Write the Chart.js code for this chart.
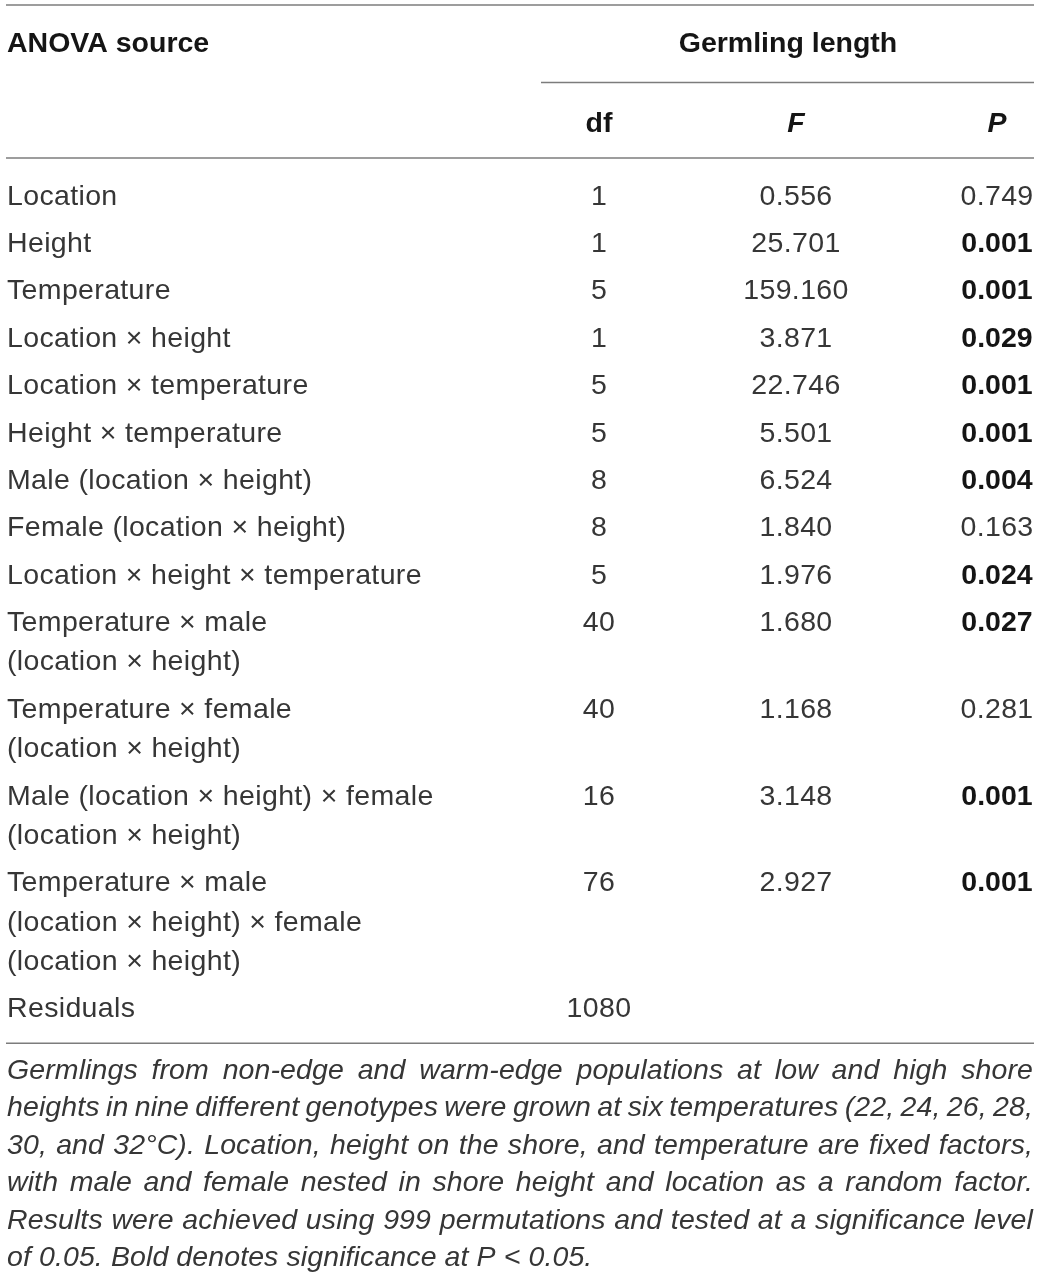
<!DOCTYPE html>
<html lang="en">
<head>
  <meta charset="UTF-8">
  <title>ANOVA - Germling length</title>
  <script src="https://cdn.jsdelivr.net/npm/chart.js"></script>
  <style>
    html, body { margin: 0; padding: 0; background: #fff; }
    #wrap { width: 1040px; height: 1277px; }
  </style>
</head>
<body>
  <div id="wrap"><canvas id="anovaTable"></canvas></div>

  <script>
    // Table contents (one entry per ANOVA source, wrapped lines as in the print)
    const sources = [
      ['Location'],
      ['Height'],
      ['Temperature'],
      ['Location \u00d7 height'],
      ['Location \u00d7 temperature'],
      ['Height \u00d7 temperature'],
      ['Male (location \u00d7 height)'],
      ['Female (location \u00d7 height)'],
      ['Location \u00d7 height \u00d7 temperature'],
      ['Temperature \u00d7 male', '(location \u00d7 height)'],
      ['Temperature \u00d7 female', '(location \u00d7 height)'],
      ['Male (location \u00d7 height) \u00d7 female', '(location \u00d7 height)'],
      ['Temperature \u00d7 male', '(location \u00d7 height) \u00d7 female', '(location \u00d7 height)'],
      ['Residuals']
    ];
    const dfValues = [1, 1, 5, 1, 5, 5, 8, 8, 5, 40, 40, 16, 76, 1080];
    const fValues = [0.556, 25.701, 159.160, 3.871, 22.746, 5.501, 6.524, 1.840, 1.976, 1.680, 1.168, 3.148, 2.927, null];
    const pValues = [0.749, 0.001, 0.001, 0.029, 0.001, 0.001, 0.004, 0.163, 0.024, 0.027, 0.281, 0.001, 0.001, null];
    const alpha = 0.05;

    const captionLines = [
      'Germlings from non-edge and warm-edge populations at low and high shore',
      'heights in nine different genotypes were grown at six temperatures (22, 24, 26, 28,',
      '30, and 32\u00b0C). Location, height on the shore, and temperature are fixed factors,',
      'with male and female nested in shore height and location as a random factor.',
      'Results were achieved using 999 permutations and tested at a significance level',
      'of 0.05. Bold denotes significance at P < 0.05.'
    ];

    // Layout (page units = css pixels)
    const W = 1040, H = 1277;
    const left = 6, right = 1034;
    const colX = { source: 7, df: 599, F: 796, P: 997 };
    const groupX = 788, groupLeft = 541;
    const rowBase0 = 204.5, rowGap = 47.4, wrapGap = 39.3;
    const captionBase0 = 1079, captionGap = 37.4;

    const FAMILY = '"Liberation Sans", Helvetica, Arial, sans-serif';
    const SIZE = 28.5;
    const textColor = '#363636';
    const boldColor = '#151515';
    const ruleColor = '#7c7c7c';

    // build cells
    const cells = [];
    const addCell = (x, y, text, opts) => cells.push(Object.assign({ x, y, text, align: 'center', weight: 'normal', italic: false }, opts || {}));

    addCell(colX.source, 52, 'ANOVA source', { align: 'left', weight: 'bold' });
    addCell(groupX, 52, 'Germling length', { weight: 'bold' });
    addCell(colX.df, 132, 'df', { weight: 'bold' });
    addCell(colX.F, 132, 'F', { weight: 'bold', italic: true });
    addCell(colX.P, 132, 'P', { weight: 'bold', italic: true });

    let base = rowBase0;
    let lastBase = base;
    sources.forEach((lines, i) => {
      lines.forEach((ln, k) => {
        addCell(colX.source, base + k * wrapGap, ln, { align: 'left' });
      });
      addCell(colX.df, base, String(dfValues[i]));
      if (fValues[i] !== null) addCell(colX.F, base, fValues[i].toFixed(3));
      if (pValues[i] !== null) {
        addCell(colX.P, base, pValues[i].toFixed(3), { weight: pValues[i] < alpha ? 'bold' : 'normal' });
      }
      lastBase = base + (lines.length - 1) * wrapGap;
      base = lastBase + rowGap;
    });

    const bottomRule = lastBase + 26;
    const rules = [
      { y: 5, x0: left, x1: right },
      { y: 82.5, x0: groupLeft, x1: right },
      { y: 158, x0: left, x1: right },
      { y: bottomRule, x0: left, x1: right }
    ];

    const captionCells = captionLines.map((t, i) => ({
      x: colX.source, y: captionBase0 + i * captionGap, text: t, justify: i < captionLines.length - 1
    }));

    const ruleSets = rules.map(r => ({
      type: 'line',
      data: [{ x: r.x0, y: r.y }, { x: r.x1, y: r.y }],
      borderColor: ruleColor,
      borderWidth: 1.5,
      pointRadius: 0,
      fill: false
    }));

    const fontFor = c => (c.italic ? 'italic ' : '') + c.weight + ' ' + SIZE + 'px ' + FAMILY;

    const cellText = {
      id: 'cellText',
      afterDatasetsDraw(chart) {
        const ctx = chart.ctx;
        ctx.save();
        ctx.textBaseline = 'alphabetic';

        // table cells, positioned by the scatter points
        const meta = chart.getDatasetMeta(0);
        meta.data.forEach((pt, i) => {
          const c = cells[i];
          ctx.font = fontFor(c);
          ctx.fillStyle = c.weight === 'bold' ? boldColor : textColor;
          ctx.letterSpacing = c.weight === 'bold' ? '0px' : '0.35px';
          ctx.textAlign = c.align;
          ctx.fillText(c.text, pt.x, pt.y);
        });

        // caption, justified to the table width
        const capMeta = chart.getDatasetMeta(1);
        const xs = chart.scales.x;
        const widthPx = xs.getPixelForValue(right - 1) - xs.getPixelForValue(colX.source);
        ctx.font = 'italic normal ' + SIZE + 'px ' + FAMILY;
        ctx.fillStyle = textColor;
        ctx.letterSpacing = '0.1px';
        ctx.textAlign = 'left';
        capMeta.data.forEach((pt, i) => {
          const c = captionCells[i];
          if (!c.justify) {
            ctx.fillText(c.text, pt.x, pt.y);
            return;
          }
          const words = c.text.split(' ');
          const wordsW = words.reduce((s, w) => s + ctx.measureText(w).width, 0);
          const gap = (widthPx - wordsW) / (words.length - 1);
          let x = pt.x;
          words.forEach(w => {
            ctx.fillText(w, x, pt.y);
            x += ctx.measureText(w).width + gap;
          });
        });
        ctx.restore();
      }
    };

    const chart = new Chart(document.getElementById('anovaTable'), {
      type: 'scatter',
      data: {
        datasets: [
          { label: 'cells', data: cells, pointRadius: 0, pointHoverRadius: 0 },
          { label: 'caption', data: captionCells, pointRadius: 0, pointHoverRadius: 0 }
        ].concat(ruleSets)
      },
      options: {
        responsive: true,
        maintainAspectRatio: false,
        animation: false,
        events: [],
        layout: { padding: 0 },
        plugins: { legend: { display: false }, tooltip: { enabled: false } },
        scales: {
          x: { type: 'linear', min: 0, max: W, display: false },
          y: { type: 'linear', min: 0, max: H, reverse: true, display: false }
        }
      },
      plugins: [cellText]
    });
  </script>
</body>
</html>
